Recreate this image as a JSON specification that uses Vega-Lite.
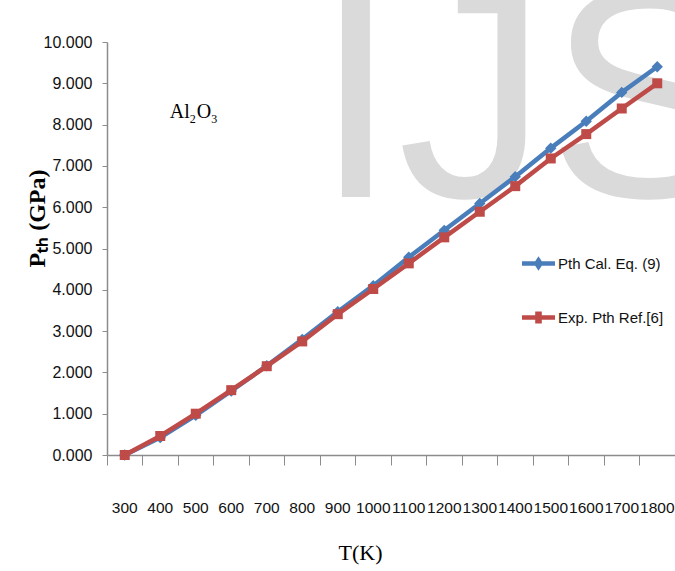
{
  "$schema": "https://vega.github.io/schema/vega-lite/v6.json",
  "autosize": "none",
  "width": 568,
  "height": 413,
  "padding": {"left": 107, "top": 42, "right": 0, "bottom": 116},
  "background": "white",
  "config": {
    "view": {"stroke": null},
    "font": "Liberation Sans"
  },
  "data": {
    "values": [
      {"T": "300", "P": 0.0, "series": "Pth Cal. Eq. (9)"},
      {"T": "400", "P": 0.42, "series": "Pth Cal. Eq. (9)"},
      {"T": "500", "P": 0.96, "series": "Pth Cal. Eq. (9)"},
      {"T": "600", "P": 1.55, "series": "Pth Cal. Eq. (9)"},
      {"T": "700", "P": 2.16, "series": "Pth Cal. Eq. (9)"},
      {"T": "800", "P": 2.8, "series": "Pth Cal. Eq. (9)"},
      {"T": "900", "P": 3.47, "series": "Pth Cal. Eq. (9)"},
      {"T": "1000", "P": 4.1, "series": "Pth Cal. Eq. (9)"},
      {"T": "1100", "P": 4.79, "series": "Pth Cal. Eq. (9)"},
      {"T": "1200", "P": 5.44, "series": "Pth Cal. Eq. (9)"},
      {"T": "1300", "P": 6.09, "series": "Pth Cal. Eq. (9)"},
      {"T": "1400", "P": 6.74, "series": "Pth Cal. Eq. (9)"},
      {"T": "1500", "P": 7.43, "series": "Pth Cal. Eq. (9)"},
      {"T": "1600", "P": 8.08, "series": "Pth Cal. Eq. (9)"},
      {"T": "1700", "P": 8.78, "series": "Pth Cal. Eq. (9)"},
      {"T": "1800", "P": 9.4, "series": "Pth Cal. Eq. (9)"},
      {"T": "300", "P": 0.0, "series": "Exp. Pth Ref.[6]"},
      {"T": "400", "P": 0.46, "series": "Exp. Pth Ref.[6]"},
      {"T": "500", "P": 1.0, "series": "Exp. Pth Ref.[6]"},
      {"T": "600", "P": 1.57, "series": "Exp. Pth Ref.[6]"},
      {"T": "700", "P": 2.15, "series": "Exp. Pth Ref.[6]"},
      {"T": "800", "P": 2.75, "series": "Exp. Pth Ref.[6]"},
      {"T": "900", "P": 3.41, "series": "Exp. Pth Ref.[6]"},
      {"T": "1000", "P": 4.02, "series": "Exp. Pth Ref.[6]"},
      {"T": "1100", "P": 4.64, "series": "Exp. Pth Ref.[6]"},
      {"T": "1200", "P": 5.27, "series": "Exp. Pth Ref.[6]"},
      {"T": "1300", "P": 5.89, "series": "Exp. Pth Ref.[6]"},
      {"T": "1400", "P": 6.51, "series": "Exp. Pth Ref.[6]"},
      {"T": "1500", "P": 7.18, "series": "Exp. Pth Ref.[6]"},
      {"T": "1600", "P": 7.77, "series": "Exp. Pth Ref.[6]"},
      {"T": "1700", "P": 8.39, "series": "Exp. Pth Ref.[6]"},
      {"T": "1800", "P": 9.0, "series": "Exp. Pth Ref.[6]"}
    ]
  },
  "encoding": {
    "x": {
      "field": "T",
      "type": "ordinal",
      "sort": null,
      "scale": {
        "type": "band",
        "paddingInner": 0,
        "paddingOuter": 0,
        "domain": ["300","400","500","600","700","800","900","1000","1100","1200","1300","1400","1500","1600","1700","1800"]
      },
      "axis": {
        "title": "T(K)",
        "titleFont": "Liberation Serif",
        "titleFontWeight": "normal",
        "titleFontSize": 22,
        "titleColor": "#000000",
        "titleX": 253,
        "titleY": 104,
        "titleBaseline": "alphabetic",
        "titleAnchor": "middle",
        "bandPosition": 0,
        "labelAngle": 0,
        "labelOverlap": false,
        "labelFontSize": 15.5,
        "labelColor": "#111111",
        "labelPadding": 35,
        "labelBaseline": "top",
        "tickSize": 10,
        "tickColor": "#8c8c8c",
        "domainColor": "#8c8c8c",
        "domainWidth": 1.5,
        "grid": false
      }
    },
    "y": {
      "field": "P",
      "type": "quantitative",
      "scale": {"domain": [0, 10], "nice": false},
      "axis": {
        "title": "Pₜₕ (GPa)",
        "titleFont": "Liberation Serif",
        "titleFontWeight": "bold",
        "titleFontSize": 24,
        "titleColor": "#000000",
        "titleX": -70,
        "titleY": 176,
        "titleAngle": -90,
        "titleBaseline": "middle",
        "titleAnchor": "middle",
        "values": [0,1,2,3,4,5,6,7,8,9,10],
        "format": ".3f",
        "labelFontSize": 16,
        "labelColor": "#111111",
        "labelPadding": 10,
        "tickSize": 5,
        "tickColor": "#8c8c8c",
        "domainColor": "#8c8c8c",
        "domainWidth": 1.5,
        "grid": false
      }
    }
  },
  "layer": [
    {
      "transform": [{"filter": "datum.T === '300' && datum.series === 'Pth Cal. Eq. (9)'"}],
      "mark": {
        "type": "text",
        "text": "IJS",
        "font": "Liberation Sans",
        "fontSize": 300,
        "color": "#dadada",
        "align": "left",
        "baseline": "alphabetic",
        "dx": 12
      },
      "encoding": {
        "x": {"datum": "800"},
        "y": {"datum": 6.25}
      }
    },
    {
      "transform": [{"filter": "datum.T === '300' && datum.series === 'Pth Cal. Eq. (9)'"}],
      "mark": {"type": "text", "text": "Al", "font": "Liberation Serif", "fontSize": 20, "color": "#000000", "align": "left", "baseline": "alphabetic", "dx": -26},
      "encoding": {"x": {"datum": "500"}, "y": {"datum": 8.16}}
    },
    {
      "transform": [{"filter": "datum.T === '300' && datum.series === 'Pth Cal. Eq. (9)'"}],
      "mark": {"type": "text", "text": "2", "font": "Liberation Serif", "fontSize": 12, "color": "#000000", "align": "left", "baseline": "alphabetic", "dx": -6, "dy": 5},
      "encoding": {"x": {"datum": "500"}, "y": {"datum": 8.16}}
    },
    {
      "transform": [{"filter": "datum.T === '300' && datum.series === 'Pth Cal. Eq. (9)'"}],
      "mark": {"type": "text", "text": "O", "font": "Liberation Serif", "fontSize": 20, "color": "#000000", "align": "left", "baseline": "alphabetic", "dx": 1},
      "encoding": {"x": {"datum": "500"}, "y": {"datum": 8.16}}
    },
    {
      "transform": [{"filter": "datum.T === '300' && datum.series === 'Pth Cal. Eq. (9)'"}],
      "mark": {"type": "text", "text": "3", "font": "Liberation Serif", "fontSize": 12, "color": "#000000", "align": "left", "baseline": "alphabetic", "dx": 15.5, "dy": 5},
      "encoding": {"x": {"datum": "500"}, "y": {"datum": 8.16}}
    },
    {
      "transform": [{"filter": "datum.series === 'Pth Cal. Eq. (9)'"}],
      "mark": {
        "type": "line",
        "strokeWidth": 4.5,
        "point": {"shape": "diamond", "size": 130, "filled": true, "opacity": 1}
      },
      "encoding": {
        "color": {
          "field": "series",
          "type": "nominal",
          "scale": {
            "domain": ["Pth Cal. Eq. (9)", "Exp. Pth Ref.[6]"],
            "range": ["#4a7ebb", "#be4b48"]
          },
          "legend": {
            "title": null,
            "orient": "none",
            "legendX": 415,
            "legendY": 205,
            "padding": 0,
            "labelFontSize": 15,
            "labelColor": "#111111",
            "labelOffset": 3,
            "rowPadding": 29,
            "symbolSize": 1089,
            "symbolStrokeWidth": 0,
            "encode": {
              "symbols": {
                "update": {
                  "shape": {"signal": "datum.value === 'Pth Cal. Eq. (9)' ? 'M-1,-0.14L-0.2,-0.14L0,-0.44L0.2,-0.14L1,-0.14L1,0.14L0.2,0.14L0,0.44L-0.2,0.14L-1,0.14Z' : 'M-1,-0.14L-0.2,-0.14L-0.2,-0.36L0.2,-0.36L0.2,-0.14L1,-0.14L1,0.14L0.2,0.14L0.2,0.36L-0.2,0.36L-0.2,0.14L-1,0.14Z'"},
                  "fill": {"signal": "datum.value === 'Pth Cal. Eq. (9)' ? '#4a7ebb' : '#be4b48'"},
                  "fillOpacity": {"value": 1},
                  "strokeWidth": {"value": 0}
                }
              }
            }
          }
        }
      }
    },
    {
      "transform": [{"filter": "datum.series === 'Exp. Pth Ref.[6]'"}],
      "mark": {
        "type": "line",
        "strokeWidth": 4.5,
        "point": {"shape": "square", "size": 100, "filled": true, "opacity": 1}
      },
      "encoding": {
        "color": {"field": "series", "type": "nominal"}
      }
    }
  ]
}
